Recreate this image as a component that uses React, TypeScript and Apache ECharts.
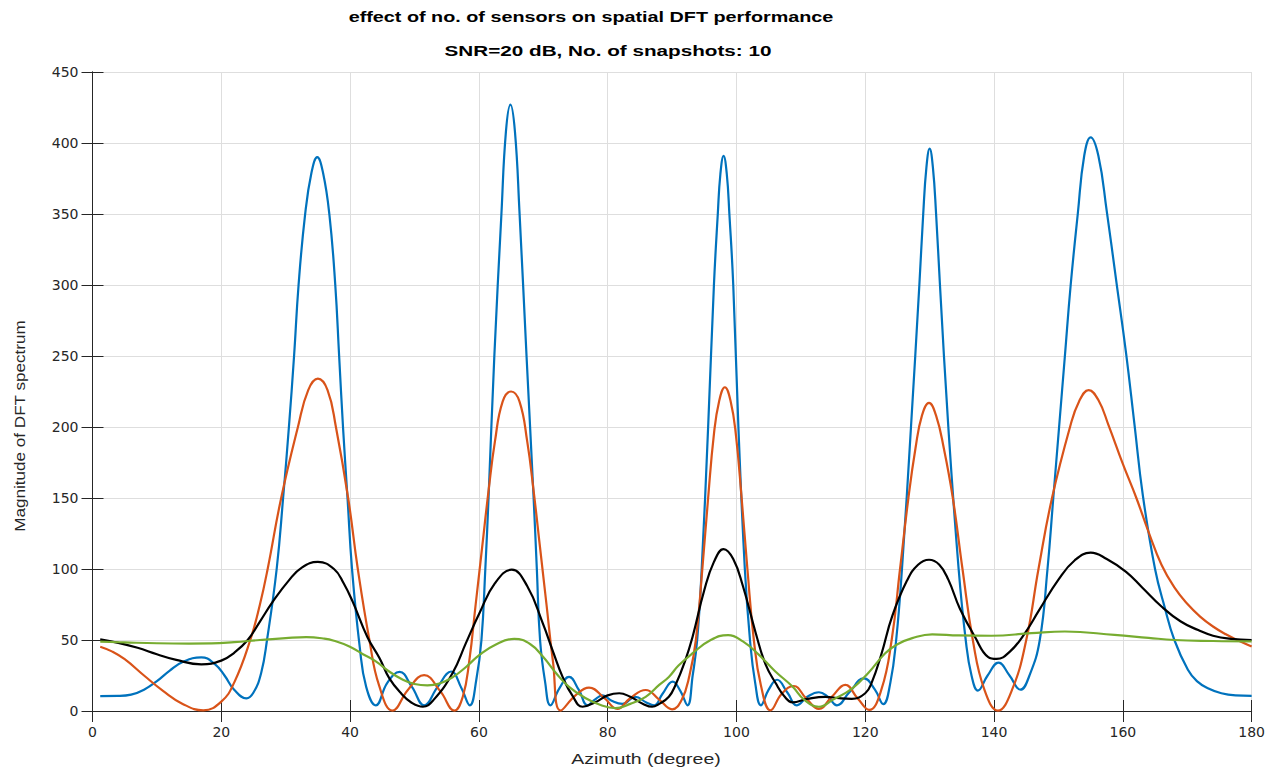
import React, { useEffect, useRef } from 'react';
import * as echarts from 'echarts';

const titleLines = ['effect of no. of sensors on spatial DFT performance', 'SNR=20 dB, No. of snapshots: 10'];
const xAxisName = 'Azimuth (degree)';
const yAxisName = 'Magnitude of DFT spectrum';
const xRange = [0, 180, 20];
const yRange = [0, 450, 50];
const seriesNames = ['32 sensors', '16 sensors', '8 sensors', '4 sensors'];
const seriesColors = ['#0072BD', '#D95319', '#000000', '#77AC30'];

const blueCurve: [number, number][] = [
  [1.2,10.5],[4,10.6],[6,11.5],[8,15],[10,21],[12,28.5],[14,34.5],[16.9,37.8],[19,33],[20.5,25],[22,15],[23.9,8.9],[25,13],[26.2,27],
  [27.1,50],[28.6,100],[29.6,150],[30.5,200],[31.3,250],[32,300],[33,349],[34,379],[34.9,390],[35.8,379],[36.8,349],[37.7,300],[38.3,250],[38.9,200],[39.6,150],[40.3,100],[41.5,45],
  [42.5,17],[44,4],[45.8,20],[47.7,27.5],[49.6,17],[51.5,4],[53.6,17],[55.7,27.8],[57.3,16],[58.6,4],
  [59.6,22],[60.4,50],[61,100],[61.5,150],[62.4,250],[63.5,350],[64.2,408],[64.9,427],[65.6,408],[66.3,352],[67.4,250],[68.5,150],[69,100],[69.5,50],[70.3,20],
  [71.1,4],[72.5,16],[74,24],[75.5,15],[76.9,4],[78,8],[79.2,11],[80.7,7],[82.3,5],[84.3,10],[86,6],[87.2,4],[88.5,12],[90.1,20.7],[91.3,14],[92.4,4],
  [93.2,25],[93.9,50],[94.6,100],[95.6,200],[96.5,300],[97.1,350],[97.5,378],[98,391],[98.5,378],[98.9,350],[99.5,300],[100.3,200],[101.3,100],[102.1,50],[102.9,20],
  [103.8,4],[105,15],[106.3,22],[107.9,13],[109.4,4],[111,10],[112.8,13.2],[114.2,10],[115.6,4],[117.5,13],[119.8,23],[121.5,15],[122.8,4.8],
  [123.9,20],[124.8,50],[125.7,100],[127.1,200],[128.4,300],[129,350],[129.5,383],[130,396],[130.5,383],[131,350],[131.6,300],[132.9,200],[134.5,100],[135.6,50],[136.5,25],
  [137.5,14.4],[139,25],[140.7,34],[142.4,25],[144.1,15],[145.5,25],
  [147.1,50],[148.3,100],[149.2,150],[150.1,200],[151,250],[151.9,300],[153,350],[154,391],[155,404],[156.2,391],[157.5,352],[159,302],[160.5,252],[161.8,202],[163.1,152],[165,100],[166.5,73],[168,50],
  [170.1,29],[171.5,21],[173.2,16],[175.3,12.5],[177.5,11],[180,10.7]
];

const orangeCurve: [number, number][] = [
  [1.2,45.3],[3,42],[5,36.5],[8,25],[11,14],[14,5],[17.2,0.5],[20,6.6],[22,20],
  [24.5,50],[26,75],[27.2,100],[29.3,150],[31.9,200],[33.5,226],[35,234],[36.5,226],[37.8,200],[39.7,150],[41.2,100],[43,50],[44.5,18],
  [46.6,0.3],[49,15],[51.5,25.2],[54,14],[56.2,0.3],
  [57.5,10],[58.5,35],[59.5,75],[60.5,115],[61.5,155],[62.5,190],[63.7,218],[65,225],[66.3,218],[67.5,190],[68.5,155],[69.5,115],[70.5,75],[71.5,35],
  [72.7,0.3],[75,11],[77.1,16.5],[79.5,9],[81.5,1.5],[83.5,9],[85.9,14.8],[88,8],[90,1.2],
  [91.5,8],[92.7,25],[93.7,50],[94.7,100],[95.6,150],[96.5,195],[97.3,218],[98.2,228],[99.1,218],[99.9,195],[100.8,150],[101.7,100],[102.7,50],[103.8,18],
  [105.3,0.5],[107,12],[108.9,17.6],[110.8,9],[112.8,1.5],[114.8,10],[116.9,18.4],[118.8,9],[120.6,0.8],
  [122.5,15],[124.1,50],[125.4,100],[126.7,150],[127.8,185],[128.8,208],[129.9,217],[131,208],[132.2,185],[133.6,150],[135.1,100],[136.7,50],[138.5,15],
  [140.6,0.3],[142.8,15],[145,50],[146.9,100],[149,150],[151.8,200],[153.2,218],[154.7,226],[156.2,219],[157.8,201],[160,174],[162.1,150],[164,126],[166,103],[168,87],[170,75.5],[172,66.5],[174,59.5],[176,54],[178,49.5],[180,45.5]
];

const blackCurve: [number, number][] = [
  [1.2,50.4],[4,48],[7,44.5],[10,40],[13,36],[16.9,32.9],[20,35.5],[22,41],[24.1,50],[26,63],[28,77],[30.5,92],[32.5,101],[35,105],[37.5,100],[39,90],[40.4,77],[42.7,52],[44.6,37],[46.1,23],[48,12],[49.5,6],[51.3,3],
  [53,8],[55.9,26.6],[58,48],[60.1,69],[62.5,90],[65.1,99.5],[67.5,88],[69.9,62],[71.5,42],[73,24],[74.5,11],[76.1,3],
  [78,6],[80,11],[81.8,12.5],[83.5,10],[85.5,5],[86.9,3],[88,5],[89.5,10],[90.5,18],[92,35],[93.2,52.5],[95,85],[96.5,105],[98,114],[99.5,107],[101,88],[103,54.8],[104.5,33],[106.1,19.5],[107.5,10],[108.7,6.1],
  [111,8.5],[113.8,10],[116,9],[117.9,8.6],[120,12.5],[121,20],[122.5,40],[124.2,67],[126.5,92],[128.2,103],[129.9,106.5],[131.5,103],[132.9,92.5],[134.7,72],[137,52.5],[139.1,38],[140.4,36.7],
  [142.5,42],[144.8,54.8],[147,71],[150,92.5],[152.5,106],[155,111.5],[157.5,107],[160.5,98],[163,87],[166,73.6],[169,63],[171.7,57],[174,53],[176.8,50.8],[180,50]
];

const greenCurve: [number, number][] = [
  [1.2,48.8],[5,48.3],[10,47.7],[15,47.5],[18.5,47.6],[22,48.5],[26,50],[30,51.3],[33.2,52],[36,51],[37.5,49.5],[39.9,45.5],[42,40],[44,35],[46,28],[48.2,22],[50,19],[52,18],[54,19.5],[56,24],[58,31],[60.1,39.5],[62.5,46.5],[65.5,50.8],[68,47],[70,38],[72,26.6],[74,17],[76.6,9],[79,4],[81.2,2],[83.5,5],[85.9,10],[88,18.4],[89.5,24],[91,32],[93.2,40.7],[96,50],[98.7,53.5],[101,49],[103.5,39.5],[106,28],[108.7,17.2],[110.5,8],[112.8,3],[115,8],[118,16],[120.5,27],[123.1,40.7],[125,47],[127.3,51.3],[130.4,54],[134.5,53.2],[139.6,53],[145.8,54.8],[151,56],[158.7,53.6],[164,51.5],[168,50],[174,49.3],[180,49]
];

const curves = [blueCurve, orangeCurve, blackCurve, greenCurve];

const FONT = '"Liberation Sans", Arial, Helvetica, sans-serif';
const TICK_FONT = '"DejaVu Sans", "Liberation Sans", sans-serif';
const AXIS_COLOR = '#262626';

export default function App() {
  const ref = useRef<HTMLDivElement>(null);
  useEffect(() => {
    if (!ref.current) return;
    const chart = echarts.init(ref.current, null, { renderer: 'svg' });
    const baseX = { type: 'value' as const, min: xRange[0], max: xRange[1], interval: xRange[2] };
    const baseY = { type: 'value' as const, min: yRange[0], max: yRange[1], interval: yRange[2] };
    const line = { show: true, lineStyle: { color: AXIS_COLOR, width: 1 } };
    const tick = { show: true, inside: true, length: 11, lineStyle: { color: AXIS_COLOR } };
    const grid = { show: true, lineStyle: { color: '#dedede', width: 1 } };
    const label = { show: true, margin: 14, color: AXIS_COLOR, fontSize: 14, fontFamily: TICK_FONT };
    chart.setOption({
      animation: false,
      backgroundColor: '#ffffff',
      grid: { left: 92.5, right: 14.5, top: 72, bottom: 59, containLabel: false },
      xAxis: [
        { ...baseX, position: 'bottom', axisLine: line, axisTick: tick, axisLabel: label, splitLine: grid },
        { ...baseX, position: 'top', axisLine: line, axisTick: tick, axisLabel: { show: false }, splitLine: { show: false } },
      ],
      yAxis: [
        { ...baseY, position: 'left', axisLine: line, axisTick: tick, axisLabel: label, splitLine: grid },
        { ...baseY, position: 'right', axisLine: line, axisTick: tick, axisLabel: { show: false }, splitLine: { show: false } },
      ],
      graphic: [
        {
          type: 'text', x: 591, y: 17, scaleX: 1.32,
          style: { text: titleLines[0], fill: '#000', font: `bold 15px ${FONT}`, textAlign: 'center', textVerticalAlign: 'middle' },
        },
        {
          type: 'text', x: 608, y: 51, scaleX: 1.38,
          style: { text: titleLines[1], fill: '#000', font: `bold 15px ${FONT}`, textAlign: 'center', textVerticalAlign: 'middle' },
        },
        {
          type: 'text', x: 646, y: 759, scaleX: 1.3,
          style: { text: xAxisName, fill: AXIS_COLOR, font: `15px ${FONT}`, textAlign: 'center', textVerticalAlign: 'middle' },
        },
        {
          type: 'text', x: 19, y: 426, rotation: Math.PI / 2, scaleX: 1.14,
          style: { text: yAxisName, fill: AXIS_COLOR, font: `15px ${FONT}`, textAlign: 'center', textVerticalAlign: 'middle' },
        },
      ],
      series: curves.map((data, i) => ({
        name: seriesNames[i],
        type: 'line',
        xAxisIndex: 0,
        yAxisIndex: 0,
        data,
        smooth: 0.45,
        showSymbol: false,
        symbol: 'none',
        lineStyle: { color: seriesColors[i], width: 2.2 },
        itemStyle: { color: seriesColors[i] },
        z: 3 + i,
      })),
    });
    return () => chart.dispose();
  }, []);
  return <div ref={ref} style={{ position: 'fixed', left: 0, top: 0, width: 1268, height: 770 }} />;
}
